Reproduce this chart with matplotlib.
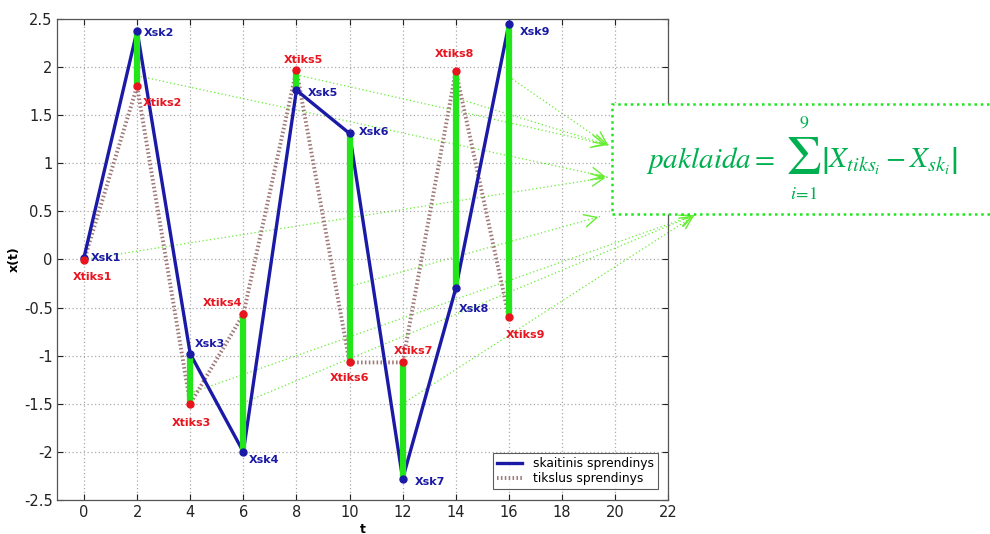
import matplotlib
matplotlib.use("Agg")
import matplotlib.pyplot as plt
from matplotlib.patches import Rectangle

# ---- data ----
t = [0, 2, 4, 6, 8, 10, 12, 14, 16]
x_sk = [0.02, 2.38, -0.98, -2.00, 1.76, 1.31, -2.28, -0.30, 2.45]
x_tiks = [-0.01, 1.80, -1.50, -0.57, 1.97, -1.07, -1.07, 1.96, -0.60]
sk_labels = ["Xsk1", "Xsk2", "Xsk3", "Xsk4", "Xsk5", "Xsk6", "Xsk7", "Xsk8", "Xsk9"]
tiks_labels = ["Xtiks1", "Xtiks2", "Xtiks3", "Xtiks4", "Xtiks5", "Xtiks6", "Xtiks7", "Xtiks8", "Xtiks9"]
xticks = list(range(0, 23, 2))
yticks = [-2.5, -2, -1.5, -1, -0.5, 0, 0.5, 1, 1.5, 2, 2.5]
ytick_labels = ["-2.5", "-2", "-1.5", "-1", "-0.5", "0", "0.5", "1", "1.5", "2", "2.5"]
legend_labels = ["skaitinis sprendinys", "tikslus sprendinys"]

# arrow sources (point on each error bar) and targets
arrow_src_y = [0.0, 1.91, -1.39, -1.49, 1.92, -0.28, -1.50, 1.68, 1.90]
arrow_target = ["B", "B", "D", "D", "A", "C", "D", "A", "A"]
targets = {"A": (19.74, 1.19), "B": (19.74, 0.855), "C": (19.47, 0.45), "D": (23.06, 0.47)}

BLUE = "#1a1aa6"
RED = "#e8141e"
TIKS = "#a07878"
GREEN = "#22e61a"
ARROWG = "#66ee33"
FORMULA = "#00b050"

W, H = 990, 534
fig = plt.figure(figsize=(9.9, 5.34), dpi=100)
ax = fig.add_axes([0.058, 0.0637, 0.617, 0.9007])

ax.set_xlim(-1, 22)
ax.set_ylim(-2.5, 2.5)
ax.set_xticks(xticks)
ax.set_yticks(yticks)
ax.set_yticklabels(ytick_labels)
ax.tick_params(direction="in", length=4, labelsize=10.5, colors="#222222", top=True, right=True)
ax.grid(True, linestyle=(0, (1, 2)), color="#aaaaaa", linewidth=0.9)
for s in ax.spines.values():
    s.set_color("#555555")
    s.set_linewidth(0.9)
ax.set_xlabel("t", fontweight="bold", fontsize=9, labelpad=2)
ax.set_ylabel("x(t)", fontweight="bold", fontsize=9, labelpad=2)

# exact and numeric solutions
l2, = ax.plot(t, x_tiks, color=TIKS, lw=2.8, linestyle=(0, (0.4, 0.6)), zorder=2)
l1, = ax.plot(t, x_sk, color=BLUE, lw=2.4, zorder=3)

# error bars
for ti, a, b in zip(t, x_tiks, x_sk):
    ax.plot([ti, ti], [a, b], color=GREEN, lw=4.5, solid_capstyle="butt", zorder=4)

ax.plot(t, x_sk, "o", color=BLUE, ms=5, zorder=5)
ax.plot(t, x_tiks, "o", color=RED, ms=5, zorder=5)

# dotted arrows towards formula
for ti, ys, tg in zip(t, arrow_src_y, arrow_target):
    tx, ty = targets[tg]
    ax.plot([ti, tx], [ys, ty], color=ARROWG, lw=0.9, linestyle=(0, (1, 2)), clip_on=False, zorder=1)
    dx, dy = tx - ti, ty - ys
    ax.annotate("", xy=(tx, ty), xytext=(tx - dx * 0.03, ty - dy * 0.03),
                arrowprops=dict(arrowstyle="->,head_length=0.9,head_width=0.45", color=ARROWG, lw=1.0),
                annotation_clip=False, zorder=1)

# point labels (offsets in points)
sk_off = [(5, 0, "left", "center"), (5, -2, "left", "center"), (3, 7, "left", "center"),
          (4, -6, "left", "center"), (8, -2, "left", "center"), (7, 1, "left", "center"),
          (9, -2, "left", "center"), (2, -15, "left", "center"), (8, -6, "left", "center")]
tiks_off = [(6, -12, "center", "center"), (4, -12, "left", "center"), (1, -14, "center", "center"),
            (-1, 8, "right", "center"), (5, 7, "center", "center"), (0, -11, "center", "center"),
            (8, 8, "center", "center"), (-1, 12, "center", "center"), (12, -13, "center", "center")]
for ti, v, lab, (ox, oy, ha, va) in zip(t, x_sk, sk_labels, sk_off):
    ax.annotate(lab, (ti, v), xytext=(ox, oy), textcoords="offset points", ha=ha, va=va,
                color=BLUE, fontsize=8, fontweight="bold", zorder=6)
for ti, v, lab, (ox, oy, ha, va) in zip(t, x_tiks, tiks_labels, tiks_off):
    ax.annotate(lab, (ti, v), xytext=(ox, oy), textcoords="offset points", ha=ha, va=va,
                color=RED, fontsize=8, fontweight="bold", zorder=6)

leg = ax.legend([l1, l2], legend_labels, loc="lower right", fontsize=8.8, frameon=True,
                fancybox=False, edgecolor="#333333", borderpad=0.35, labelspacing=0.15,
                handlelength=2.0, handletextpad=0.9, bbox_to_anchor=(0.993, 0.01))
leg.get_frame().set_linewidth(0.8)

# formula box
box = Rectangle((612 / W, 1 - 214 / H), 0.40, 110 / H, transform=fig.transFigure,
                facecolor="white", edgecolor="#1ee61e", linestyle=(0, (1, 1.5)), linewidth=1.8,
                zorder=10)
fig.patches.append(box)
plt.rcParams["mathtext.fontset"] = "stix"


def ftext(px, py, s, **kw):
    fig.text(px / W, 1 - py / H, s, color=FORMULA, zorder=11, **kw)


ftext(775, 160, r"$paklaida =$", ha="right", va="center", fontsize=21)
ftext(804, 159, r"$\Sigma$", ha="center", va="center", fontsize=40)
ftext(804, 123, r"$9$", ha="center", va="center", fontsize=13)
ftext(804, 194, r"$i\!=\!1$", ha="center", va="center", fontsize=13)
ftext(821, 160, r"$\left|X_{tiks_i} - X_{sk_i}\right|$", ha="left", va="center", fontsize=21)

fig.savefig("out.png", dpi=100)
